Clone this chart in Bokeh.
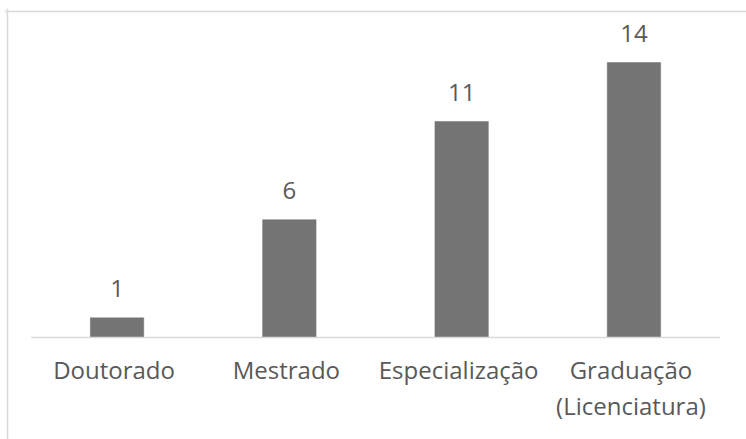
from bokeh.plotting import figure
from bokeh.models import FactorRange, Range1d, Span, ColumnDataSource
from bokeh.core.properties import value
from bokeh.embed import file_html
from bokeh.resources import INLINE

# data
categories = ["Doutorado", "Mestrado", "Especialização", "Graduação\n(Licenciatura)"]
counts = [1, 6, 11, 14]
count_labels = [str(v) for v in counts]

FONT = "Open Sans"
TEXT_COLOR = "#595959"
BAR_COLOR = "#747474"

x_range = FactorRange(factors=categories, range_padding=0.1532,
                      range_padding_units="absolute")
y_range = Range1d(-5.1935, 16.752)

p = figure(width=746, height=439, x_range=x_range, y_range=y_range,
           output_backend="svg", toolbar_location=None,
           x_axis_location=None, y_axis_location=None,
           min_border_left=4, min_border_right=0,
           min_border_top=8, min_border_bottom=0)
p.outline_line_color = None
p.background_fill_color = "white"
p.border_fill_color = "white"
p.xgrid.grid_line_color = None
p.ygrid.grid_line_color = None

src = ColumnDataSource(dict(cat=categories, n=counts, lab=count_labels))

# outer chart border (left and top)
p.add_layout(Span(location=-0.1358, dimension="height",
                  line_color="#d9d9d9", line_width=1.5))
p.add_layout(Span(location=16.599, dimension="width",
                  line_color="#d9d9d9", line_width=1.5))

# bars
p.vbar(x="cat", top="n", bottom=0, width=0.31, source=src,
       fill_color=BAR_COLOR, line_color=BAR_COLOR, line_width=0.5)

# category axis line
p.segment(x0=[0], x1=[len(categories)], y0=[0], y1=[0],
          line_color="#d9d9d9", line_width=1.5)

# value labels
p.text(x="cat", y="n", text="lab", source=src,
       text_font=value(FONT), text_font_size="24px", text_color=TEXT_COLOR,
       text_align="center", text_baseline="middle", y_offset=-29)

# category labels
p.text(x="cat", y=0, text="cat", source=src,
       text_font=value(FONT), text_font_size="24px", text_color=TEXT_COLOR,
       text_align="center", text_baseline="top", y_offset=15, x_offset=-3,
       text_line_height=1.12)

open("out.html", "w").write(file_html(p, INLINE))
